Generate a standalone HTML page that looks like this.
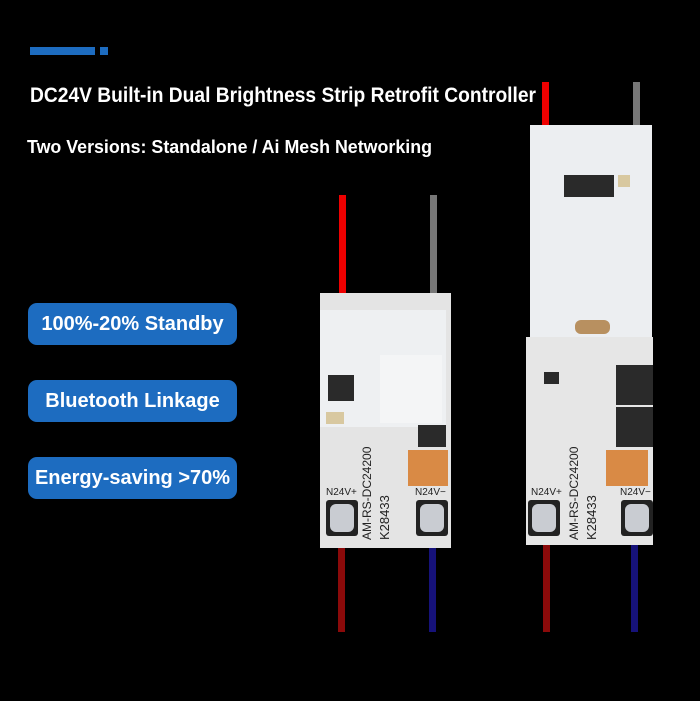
<!DOCTYPE html>
<html><head><style>
body{margin:0;background:#000;width:700px;height:701px;overflow:hidden;position:relative;font-family:"Liberation Sans",sans-serif}
div{position:absolute}
.t{color:#fff;font-weight:bold;white-space:nowrap}
.btn{left:28px;width:209px;height:42px;background:#1d6cc0;border-radius:9px;color:#fff;font-weight:bold;font-size:20px;line-height:42px;text-align:center}
.w{width:7px}
.lbl{font-size:10px;color:#222;white-space:nowrap}
.term{width:32px;height:36px;background:#222;border-radius:3px}
.term div{left:4px;top:4px;width:24px;height:28px;background:#c9ccd2;border-radius:6px}
.pad{background:#d98a45}
.chip{background:#2a2a2a}
</style></head><body>
<div style="left:30px;top:47px;width:65px;height:8px;background:#1d6cc0"></div>
<div style="left:100px;top:47px;width:8px;height:8px;background:#1d6cc0"></div>
<div class="t" style="left:30px;top:84px;font-size:21px;transform:scaleX(0.915);transform-origin:left">DC24V Built-in Dual Brightness Strip Retrofit Controller</div>
<div class="t" style="left:27px;top:137px;font-size:18px;transform:scaleX(0.99);transform-origin:left">Two Versions: Standalone / Ai Mesh Networking</div>
<div class="btn" style="top:303px">100%-20% Standby</div>
<div class="btn" style="top:380px">Bluetooth Linkage</div>
<div class="btn" style="top:457px">Energy-saving &gt;70%</div>

<div class="w" style="left:339px;top:195px;height:105px;background:#e00"></div>
<div class="w" style="left:430px;top:195px;height:105px;background:#777"></div>
<div class="w" style="left:338px;top:520px;height:112px;background:#8b0a0a"></div>
<div class="w" style="left:429px;top:520px;height:112px;background:#16127a"></div>
<div style="left:320px;top:293px;width:131px;height:255px;background:#e4e4e4"></div>
<div style="left:320px;top:310px;width:126px;height:117px;background:#eef0f2">
  <div class="chip" style="left:8px;top:65px;width:26px;height:26px"></div>
  <div style="left:60px;top:45px;width:62px;height:68px;background:#f4f5f6"></div>
  <div style="left:6px;top:102px;width:18px;height:12px;background:#d8c8a0"></div>
</div>
<div class="chip" style="left:418px;top:425px;width:28px;height:22px"></div>
<div class="pad" style="left:408px;top:450px;width:40px;height:36px"></div>
<div class="lbl" style="left:326px;top:487px">N24V+</div>
<div class="lbl" style="left:415px;top:487px">N24V−</div>
<div class="lbl" style="left:360px;top:540px;transform:rotate(-90deg);transform-origin:left top;font-size:12px">AM-RS-DC24200</div>
<div class="lbl" style="left:377px;top:540px;transform:rotate(-90deg);transform-origin:left top;font-size:13px">K28433</div>
<div class="term" style="left:326px;top:500px"><div></div></div>
<div class="term" style="left:416px;top:500px"><div></div></div>

<div class="w" style="left:542px;top:82px;height:50px;background:#e00"></div>
<div class="w" style="left:633px;top:82px;height:50px;background:#777"></div>
<div class="w" style="left:543px;top:520px;height:112px;background:#8b0a0a"></div>
<div class="w" style="left:631px;top:520px;height:112px;background:#16127a"></div>
<div style="left:526px;top:337px;width:127px;height:208px;background:#e6e6e6">
  <div class="chip" style="left:90px;top:28px;width:37px;height:40px"></div>
  <div class="chip" style="left:90px;top:70px;width:37px;height:40px"></div>
  <div class="chip" style="left:18px;top:35px;width:15px;height:12px"></div>
  <div class="pad" style="left:80px;top:113px;width:42px;height:36px"></div>
  <div class="term" style="left:2px;top:163px"><div></div></div>
  <div class="term" style="left:95px;top:163px"><div></div></div>
</div>
<div class="lbl" style="left:531px;top:487px">N24V+</div>
<div class="lbl" style="left:620px;top:487px">N24V−</div>
<div class="lbl" style="left:567px;top:540px;transform:rotate(-90deg);transform-origin:left top;font-size:12px">AM-RS-DC24200</div>
<div class="lbl" style="left:584px;top:540px;transform:rotate(-90deg);transform-origin:left top;font-size:13px">K28433</div>
<div style="left:530px;top:125px;width:122px;height:212px;background:#eceef1">
  <div class="chip" style="left:34px;top:50px;width:50px;height:22px"></div>
  <div style="left:88px;top:50px;width:12px;height:12px;background:#d8c8a0"></div>
  <div style="left:45px;top:195px;width:35px;height:14px;background:#b89060;border-radius:6px"></div>
</div>
</body></html>
